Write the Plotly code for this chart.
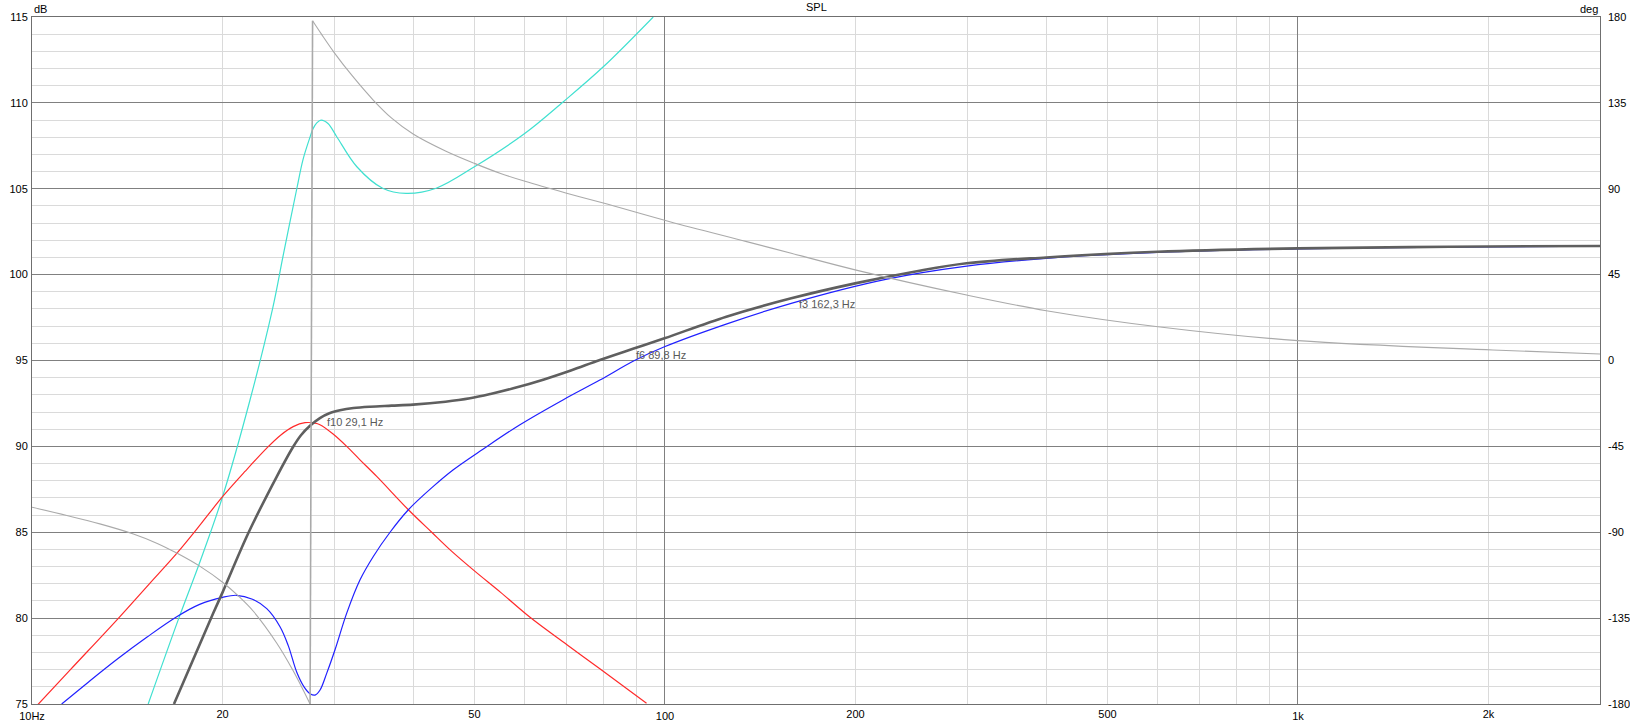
import numpy as np
import plotly.graph_objects as go

# ---------------- data ----------------
spl_f = [16.76, 19.33, 20, 21.96, 24.35, 25.86, 26.6, 27.49, 28.5, 29.5, 30.66, 32.2, 34.2, 37, 40, 45, 49.2, 53, 57.6,
         64.4, 71, 78.9, 89, 99.8, 125, 158.3, 199.7, 250, 299.6, 400, 600, 1000, 1500, 2000, 3000]
spl_db = [75, 80.28, 81.5, 84.94, 88.23, 89.98, 90.65, 91.2, 91.65, 91.93, 92.1, 92.23, 92.31, 92.37, 92.43, 92.6, 92.8, 93.05, 93.38,
          93.9, 94.42, 95.03, 95.68, 96.29, 97.55, 98.62, 99.49, 100.2, 100.66, 101.0, 101.33, 101.53, 101.6, 101.64, 101.67]

blue_f = [11.14, 12.3, 13.69, 15.2, 16.93, 18.4, 20, 21.04, 22.3, 23.49, 24.65, 25.4, 26.2, 26.9, 27.5, 28.0, 28.5, 29.22,
          30.11, 31.42, 32.98, 34.61, 36.78, 39.32, 43.05, 46.3, 51.64, 59.0, 69.1, 78.9, 89.5, 99.8, 125.6, 158.3,
          224.2, 299.6, 400, 600, 1000, 2000, 3000]
blue_db = [75, 76.3, 77.66, 78.9, 80.08, 80.8, 81.21, 81.33, 81.1, 80.55, 79.5, 78.4, 76.85, 76.0, 75.6, 75.52, 75.8, 76.8,
           78.16, 80.29, 82.23, 83.59, 85.0, 86.31, 87.67, 88.64, 89.85, 91.26, 92.72, 93.86, 95.0, 95.8, 97.15, 98.33,
           99.74, 100.5, 100.95, 101.3, 101.5, 101.62, 101.66]

red_f = [10, 11.5, 13.69, 15.3, 16.93, 18.5, 20, 21.7, 23.49, 24.7, 25.86, 27.0, 28.0, 28.5, 29.9, 31.42, 33, 35.04,
         39.32, 42.8, 46, 50, 55, 61.2, 70, 78.9, 93.5]
red_db = [74.6, 77.0, 79.99, 81.97, 83.77, 85.5, 87.07, 88.54, 89.9, 90.65, 91.15, 91.38, 91.35, 91.26, 90.72, 90.0, 89.2, 88.25,
          86.31, 85.0, 83.9, 82.75, 81.5, 80.05, 78.45, 77.05, 75.04]

cyan_f = [15.26, 17.1, 18.43, 20, 22.1, 24.0, 24.96, 26.2, 26.8, 27.49, 27.8, 28.2, 28.62, 29.35, 30.3, 32.6, 35.8,
          39.0, 43.5, 50, 60.1, 69.1, 79.9, 95.8]
cyan_db = [75, 80.1, 83.3, 87.07, 92.7, 98.04, 101.2, 105.0, 106.7, 108.0, 108.5, 108.85, 109.0, 108.8, 108.03, 106.28, 105.03,
           104.73, 105.03, 106.28, 108.23, 110.07, 112.1, 115.0]

# phase (right axis, degrees): part below the wrap, then part above it
phase_lo_f = [10, 11.35, 12.8, 14.46, 15.74, 16.93, 18.43, 20, 21.2, 22.37, 24.35, 25.86, 27.5]
phase_lo_deg = [-76.9, -81.2, -85.6, -90.9, -95.7, -100.9, -107.9, -116.2, -123.5, -131.4, -148.0, -162.6, -180]
phase_hi_f = [27.75, 28.66, 30.0, 32.0, 34.6, 37, 40, 45, 50, 55, 60.1, 69.7, 79.9, 101.8, 134.6, 158.3, 199.7,
              299.6, 400.4, 600.9, 1000, 2032, 3000]
phase_hi_deg = [178, 171, 161.5, 149.5, 136.5, 127, 118.7, 109.8, 103.3, 98, 93.9, 87.8, 82.5, 72.7, 62.3, 56.2, 47.5,
                34.3, 26.1, 17.7, 10.4, 5.5, 3.4]

marker_freqs = [29.1, 89.8, 162.3]
marker_db = [91.4, 95.3, 98.3]
marker_labels = ["f10 29,1 Hz", "f6 89,8 Hz", "f3 162,3 Hz"]

x_major = [10, 100, 1000]
x_major_text = ["10Hz", "100", "1k"]
x_extra = [20, 50, 200, 500, 2000]
x_extra_text = ["20", "50", "200", "500", "2k"]
x_minor = [20, 30, 40, 50, 60, 70, 80, 90, 200, 300, 400, 500, 600, 700, 800, 900, 2000, 3000]
y_ticks = [75, 80, 85, 90, 95, 100, 105, 110, 115]
deg_ticks = [-180, -135, -90, -45, 0, 45, 90, 135, 180]
deg_text = ["-180", "-135", "-90", "-45", "0", "45", "90", "135", "180"]

# ---------------- figure ----------------
FONT = "Liberation Sans, Arial, sans-serif"
MAJ = "#808080"
MIN = "#dadada"
PHASE = "#aaaaaa"
XR = [1, np.log10(3000)]
SPL_LINE = dict(shape="spline", smoothing=1.0)

fig = go.Figure()
fig.add_trace(go.Scatter(x=cyan_f, y=cyan_db, mode="lines",
                         line=dict(color="#40e0d0", width=1.2, **SPL_LINE)))
fig.add_trace(go.Scatter(x=red_f, y=red_db, mode="lines",
                         line=dict(color="#ff2a2a", width=1.2, **SPL_LINE)))
fig.add_trace(go.Scatter(x=blue_f, y=blue_db, mode="lines",
                         line=dict(color="#2020ff", width=1.2, **SPL_LINE)))
fig.add_trace(go.Scatter(x=spl_f, y=spl_db, mode="lines",
                         line=dict(color="#5f5f5f", width=2.6, **SPL_LINE)))
fig.add_trace(go.Scatter(x=phase_lo_f, y=phase_lo_deg, mode="lines", xaxis="x2", yaxis="y2",
                         line=dict(color=PHASE, width=1.1, **SPL_LINE)))
fig.add_trace(go.Scatter(x=[phase_lo_f[-1], phase_hi_f[0]], y=[phase_lo_deg[-1], phase_hi_deg[0]], mode="lines",
                         xaxis="x2", yaxis="y2", line=dict(color=PHASE, width=1.6)))
fig.add_trace(go.Scatter(x=phase_hi_f, y=phase_hi_deg, mode="lines", xaxis="x2", yaxis="y2",
                         line=dict(color=PHASE, width=1.1, **SPL_LINE)))

for f, d, t in zip(marker_freqs, marker_db, marker_labels):
    fig.add_annotation(x=np.log10(f), y=d, xref="x", yref="y", text=t, showarrow=False,
                       xanchor="left", yanchor="middle", font=dict(family=FONT, size=11, color="#5a5a5a"),
                       borderpad=0)

fig.add_annotation(x=0, y=1, xref="paper", yref="paper", text="dB", showarrow=False,
                   xanchor="left", yanchor="bottom", font=dict(family=FONT, size=11, color="#000"))
fig.add_annotation(x=1, y=1, xref="paper", yref="paper", text="deg", showarrow=False,
                   xanchor="right", yanchor="bottom", font=dict(family=FONT, size=11, color="#000"))
fig.add_annotation(x=0.5, y=1, xref="paper", yref="paper", text="SPL", showarrow=False,
                   xanchor="center", yanchor="bottom", yshift=2, font=dict(family=FONT, size=11, color="#000"))

fig.update_layout(
    template="none",
    width=1630, height=721,
    margin=dict(l=32, r=30, t=17, b=17, pad=0),
    paper_bgcolor="white", plot_bgcolor="white",
    showlegend=False,
    font=dict(family=FONT, size=11, color="#000"),
    xaxis=dict(type="log", range=XR, tickmode="array", tickvals=x_major, ticktext=x_major_text,
               showgrid=True, gridcolor=MAJ, gridwidth=1, zeroline=False,
               showline=True, linecolor="#6f6f6f", linewidth=1, mirror=True,
               ticks="", ticklabelstandoff=2, automargin=False,
               minor=dict(tickmode="array", tickvals=x_minor, showgrid=True, gridcolor=MIN, gridwidth=1, ticks="")),
    xaxis2=dict(type="log", range=XR, overlaying="x", side="bottom", anchor="y",
                tickmode="array", tickvals=x_extra, ticktext=x_extra_text,
                showgrid=False, zeroline=False, showline=False, ticks="", ticklabelstandoff=2, automargin=False),
    yaxis=dict(range=[75, 115], tickmode="array", tickvals=y_ticks,
               showgrid=True, gridcolor=MAJ, gridwidth=1, zeroline=False,
               showline=True, linecolor="#6f6f6f", linewidth=1, mirror=True,
               ticks="", ticklabelstandoff=1, automargin=False,
               minor=dict(dtick=1, showgrid=True, gridcolor=MIN, gridwidth=1, ticks="")),
    yaxis2=dict(range=[-180, 180], overlaying="y", side="right", tickmode="array",
                tickvals=deg_ticks, ticktext=deg_text, showgrid=False, zeroline=False,
                showline=False, ticks="", ticklabelstandoff=7, automargin=False),
)

fig.write_html("out.html", config={"displayModeBar": False},
               post_script="document.body.style.margin='0';document.body.style.overflow='hidden';")
